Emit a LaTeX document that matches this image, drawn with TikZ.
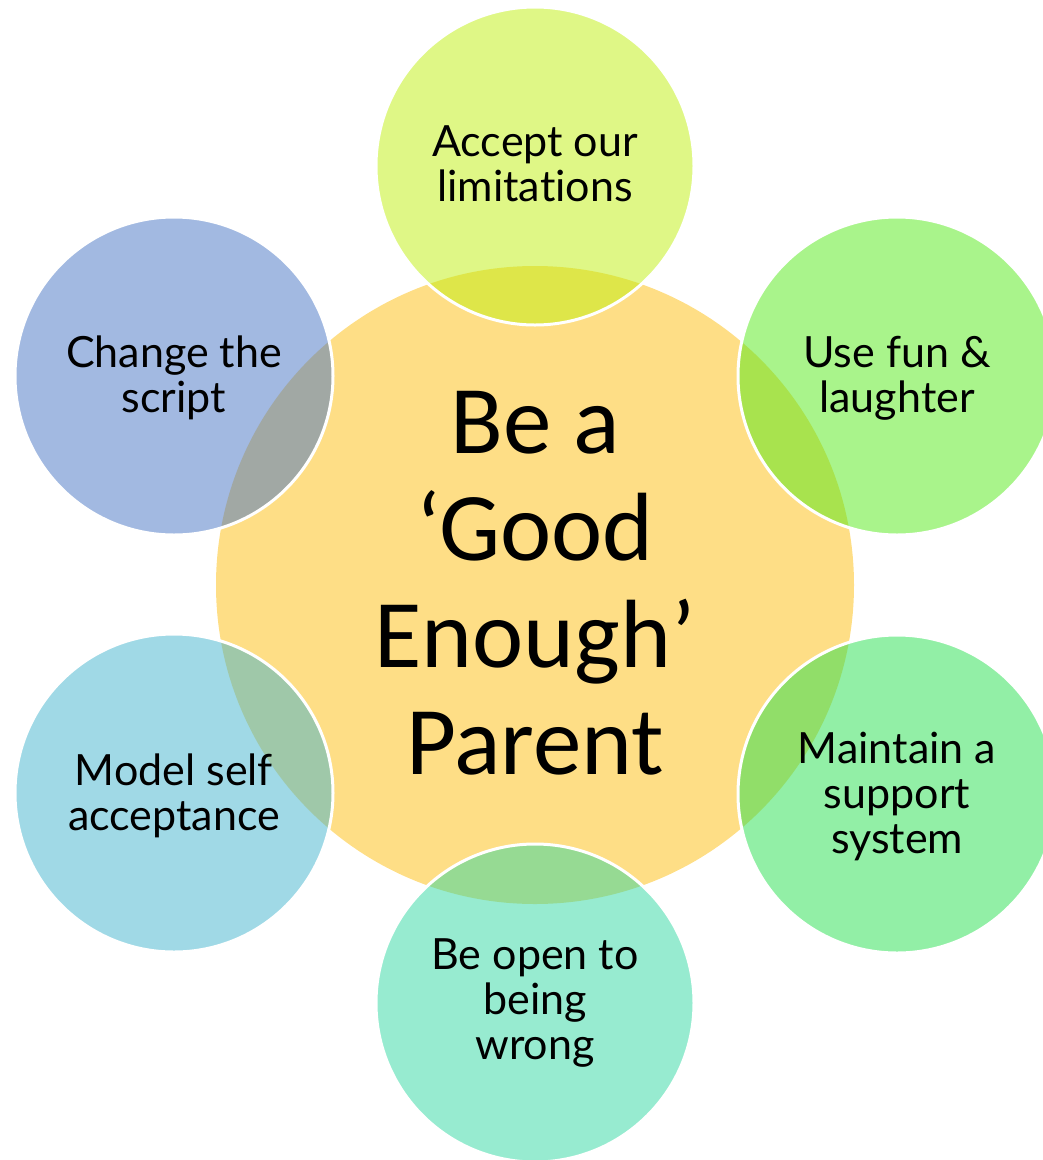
\documentclass[tikz,border=0pt]{standalone}
\usepackage{fontspec}
\setmainfont{Lato}[Ligatures=NoCommon]
\newfontfamily\centerfont{Carlito}
\definecolor{cYellow}{RGB}{254,222,134}
\definecolor{cTop}{RGB}{191,239,13}
\definecolor{cUR}{RGB}{83,233,23}
\definecolor{cLR}{RGB}{37,223,77}
\definecolor{cBot}{RGB}{47,215,161}
\definecolor{cLL}{RGB}{65,179,205}
\definecolor{cUL}{RGB}{69,115,195}
\tikzset{
  hub/.style={circle, fill=cYellow, minimum size=638pt, inner sep=0pt},
  petal/.style={circle, fill=#1, fill opacity=0.5, draw=white, draw opacity=1, line width=3pt, minimum size=318pt, inner sep=0pt},
  petaltext/.style={align=center, text=black, font=\fontsize{43}{45}\selectfont, inner sep=0pt},
  hubtext/.style={align=center, text=black, font=\centerfont\fontsize{97}{107}\selectfont, inner sep=0pt}
}
\begin{document}
\begin{tikzpicture}[x=1pt,y=-1pt]
\useasboundingbox (0,0) rectangle (1043,1160);
\begin{scope}
\clip (0,0) rectangle (1043,1160);
\node[hub] (hub) at (535,585) {};
\node[petal=cTop] (p1) at (535,166) {};
\node[petal=cUR] (p2) at (897,376) {};
\node[petal=cLR] (p3) at (897,794) {};
\node[petal=cBot] (p4) at (535,1003) {};
\node[petal=cLL] (p5) at (174,793) {};
\node[petal=cUL] (p6) at (174,376) {};
\end{scope}
\node[hubtext] (t0) at (535,583) {Be a\\‘Good\\Enough’\\Parent};
\node[petaltext] (t1) at (535,164) {Accept our\\limitations};
\node[petaltext] (t2) at (897,378) {Use fun \&\\laughter};
\node[petaltext] (t3) at (897,796) {Maintain a\\support\\system};
\node[petaltext] (t4) at (535,1003) {Be open to\\being\\wrong};
\node[petaltext] (t5) at (174,796) {Model self\\acceptance};
\node[petaltext] (t6) at (174,378) {Change the\\script};
\end{tikzpicture}
\end{document}
